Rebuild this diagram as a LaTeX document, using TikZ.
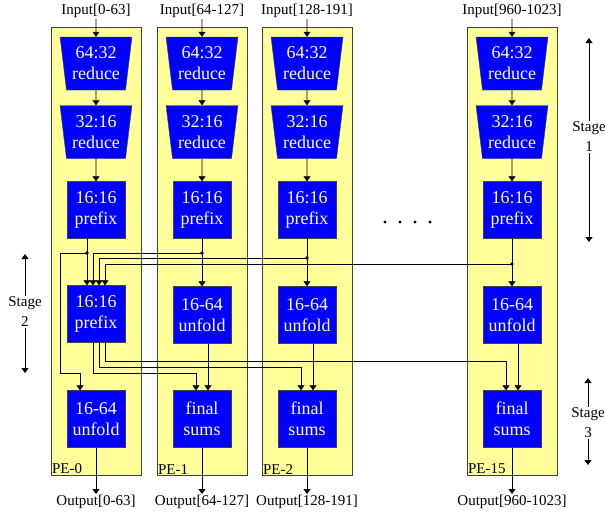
\documentclass[tikz,border=0pt]{standalone}
\usepackage{fontspec}
\setmainfont{Liberation Serif}
\usetikzlibrary{shapes.geometric, arrows.meta}
\definecolor{peyellow}{RGB}{255,255,153}
\definecolor{peblue}{RGB}{0,0,255}

\begin{document}
\begin{tikzpicture}
  [x=1pt, y=-1pt,
  pe/.style={rectangle, draw=black!75, fill=peyellow,
  minimum width=90pt, minimum height=448pt, inner sep=0pt},
  block/.style={rectangle, draw=black!75, fill=peblue, text=white,
  align=center, font=\fontsize{18}{21}\selectfont,
  minimum width=58pt, minimum height=57pt, inner sep=0pt},
  reduce/.style={block, trapezium, shape border rotate=180,
  trapezium stretches=true, trapezium left angle=81,
  trapezium right angle=81, minimum width=72pt, minimum height=53pt},
  label/.style={font=\fontsize{15}{20}\selectfont, inner sep=1pt, align=center},
  line/.style={draw, line width=0.8pt, -{Triangle[width=7pt,length=5pt]}}]

  \useasboundingbox (0,0) rectangle (605,517);

  \node [pe] (pe0) at (96,251) {};
  \node [pe] (pe1) at (202,251) {};
  \node [pe] (pe2) at (307,251) {};
  \node [pe] (pe15) at (512,251) {};
  \node [label, anchor=south west] (pename0) at (pe0.south west) {PE-0};
  \node [label, anchor=south west] (pename1) at (pe1.south west) {PE-1};
  \node [label, anchor=south west] (pename2) at (pe2.south west) {PE-2};
  \node [label, anchor=south west] (pename15) at (pe15.south west) {PE-15};

  \node [label] (in0) at (96,11) {Input[0-63]};
  \node [reduce] (ra0) at (96,63.5) {64:32\\reduce};
  \node [reduce] (rb0) at (96,132) {32:16\\reduce};
  \node [block] (pa0) at (96,210) {16:16\\prefix};
  \node [block] (pb0) at (96,314) {16:16\\prefix};
  \node [block] (u0) at (96,419) {16-64\\unfold};
  \node [label] (out0) at (96,502) {Output[0-63]};

  \node [label] (in1) at (202,11) {Input[64-127]};
  \node [reduce] (ra1) at (202,63.5) {64:32\\reduce};
  \node [reduce] (rb1) at (202,132) {32:16\\reduce};
  \node [block] (pa1) at (202,210) {16:16\\prefix};
  \node [block] (u1) at (202,315) {16-64\\unfold};
  \node [block] (f1) at (202,419) {final\\sums};
  \node [label] (out1) at (202,502) {Output[64-127]};

  \node [label] (in2) at (307,11) {Input[128-191]};
  \node [reduce] (ra2) at (307,63.5) {64:32\\reduce};
  \node [reduce] (rb2) at (307,132) {32:16\\reduce};
  \node [block] (pa2) at (307,210) {16:16\\prefix};
  \node [block] (u2) at (307,315) {16-64\\unfold};
  \node [block] (f2) at (307,419) {final\\sums};
  \node [label] (out2) at (307,502) {Output[128-191]};

  \node [label] (in15) at (512,11) {Input[960-1023]};
  \node [reduce] (ra15) at (512,63.5) {64:32\\reduce};
  \node [reduce] (rb15) at (512,132) {32:16\\reduce};
  \node [block] (pa15) at (512,210) {16:16\\prefix};
  \node [block] (u15) at (512,315) {16-64\\unfold};
  \node [block] (f15) at (512,419) {final\\sums};
  \node [label] (out15) at (512,502) {Output[960-1023]};

  \foreach \x in {385,400,415,430}
    \fill (\x,222) circle (1.6pt);

  \node [label] (st1) at (589,137) {Stage\\1};
  \node [label] (st2) at (25,312) {Stage\\2};
  \node [label] (st3) at (588,423) {Stage\\3};
  \coordinate (st1top) at (589,38);
  \coordinate (st1bot) at (589,242);
  \coordinate (st2top) at (25,254);
  \coordinate (st2bot) at (25,373);
  \coordinate (st3top) at (588,378);
  \coordinate (st3bot) at (588,465);

  \coordinate (j0) at (87,253);
  \coordinate (j1) at (202,253);
  \coordinate (j2) at (307,258);
  \coordinate (j15) at (512,264);
  \coordinate (loop) at (60,373);
  \coordinate (bus1) at (93,373);
  \coordinate (bus2) at (99,367);
  \coordinate (bus15) at (105,361);

  \begin{scope}[every path/.style=line]
    \path (in0) -- (ra0);
    \path (ra0) -- (rb0);
    \path (rb0) -- (pa0);
    \path (in1) -- (ra1);
    \path (ra1) -- (rb1);
    \path (rb1) -- (pa1);
    \path (in2) -- (ra2);
    \path (ra2) -- (rb2);
    \path (rb2) -- (pa2);
    \path (in15) -- (ra15);
    \path (ra15) -- (rb15);
    \path (rb15) -- (pa15);

    \path ([xshift=-9pt]pa0.south) -- ([xshift=-9pt]pb0.north);
    \path (pa1) -- (u1);
    \path (pa2) -- (u2);
    \path (pa15) -- (u15);
    \path (j0) -| (loop) -| ([xshift=-16pt]u0.north);
    \path (j1) -| ([xshift=-3pt]pb0.north);
    \path (j2) -| ([xshift=3pt]pb0.north);
    \path (j15) -| ([xshift=9pt]pb0.north);

    \path ([xshift=-3pt]pb0.south) -- (bus1) -| ([xshift=-6pt]f1.north);
    \path ([xshift=3pt]pb0.south) -- (bus2) -| ([xshift=-6pt]f2.north);
    \path ([xshift=9pt]pb0.south) -- (bus15) -| ([xshift=-6pt]f15.north);
    \path ([xshift=6pt]u1.south) -- ([xshift=6pt]f1.north);
    \path ([xshift=6pt]u2.south) -- ([xshift=6pt]f2.north);
    \path ([xshift=6pt]u15.south) -- ([xshift=6pt]f15.north);

    \path (u0) -- (out0);
    \path (f1) -- (out1);
    \path (f2) -- (out2);
    \path (f15) -- (out15);

    \path (st1) -- (st1top);
    \path (st1) -- (st1bot);
    \path (st2) -- (st2top);
    \path (st2) -- (st2bot);
    \path (st3) -- (st3top);
    \path (st3) -- (st3bot);
  \end{scope}
  \foreach \j in {j0,j1,j2,j15}
    \fill (\j) circle (1.8pt);
\end{tikzpicture}
\end{document}
